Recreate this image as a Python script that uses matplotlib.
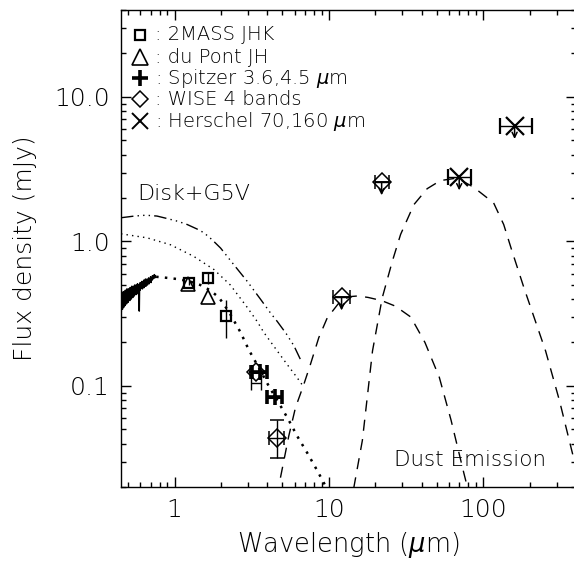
import numpy as np
import matplotlib
matplotlib.use("Agg")
import matplotlib.pyplot as plt
from matplotlib import font_manager as fm
from matplotlib.ticker import FixedLocator, FixedFormatter, LogLocator, NullFormatter

# choose a thin sans font if one is installed
fam, wt = 'DejaVu Sans', 'normal'
avail = {(f.name, f.weight) for f in fm.fontManager.ttflist}
for name, w in [('DejaVu Sans', 200), ('Open Sans', 300), ('Lato', 300)]:
    if any(n == name and (ww == w or ww == str(w) or ww in ('light', 'extra-light', 'ultralight'))
           for n, ww in avail):
        fam, wt = name, w
        break
plt.rcParams['font.family'] = [fam, 'DejaVu Sans']
plt.rcParams['font.weight'] = wt
plt.rcParams['axes.labelweight'] = wt
plt.rcParams['mathtext.fontset'] = 'custom'
plt.rcParams['mathtext.rm'] = f'{fam}'
plt.rcParams['mathtext.it'] = f'{fam}:italic'

# ---------------- data ----------------
# observed optical spectrum (noisy)
spec_wl = [0.452, 0.454, 0.456, 0.458, 0.460, 0.462, 0.464, 0.466, 0.468, 0.470,
           0.472, 0.474, 0.477, 0.480, 0.483, 0.486, 0.489, 0.492, 0.495, 0.498,
           0.501, 0.504, 0.507, 0.510, 0.513, 0.516, 0.519, 0.522, 0.525, 0.528,
           0.531, 0.534, 0.537, 0.540, 0.543, 0.546, 0.549, 0.552, 0.555, 0.558,
           0.561, 0.564, 0.567, 0.570, 0.573, 0.576, 0.579, 0.582, 0.585, 0.588,
           0.591, 0.594, 0.597, 0.600, 0.604, 0.608, 0.612, 0.616, 0.620, 0.624,
           0.628, 0.632, 0.636, 0.640, 0.644, 0.648, 0.652, 0.656, 0.660, 0.664,
           0.668, 0.672, 0.676, 0.680, 0.685, 0.690, 0.695, 0.700, 0.705, 0.710,
           0.715, 0.720, 0.725, 0.730, 0.735, 0.740, 0.745, 0.750]
spec_f = [0.33, 0.42, 0.35, 0.44, 0.34, 0.41, 0.36, 0.45, 0.35, 0.43,
          0.37, 0.44, 0.36, 0.46, 0.38, 0.44, 0.37, 0.47, 0.39, 0.45,
          0.38, 0.47, 0.40, 0.46, 0.39, 0.48, 0.41, 0.47, 0.40, 0.49,
          0.42, 0.47, 0.41, 0.49, 0.43, 0.48, 0.42, 0.50, 0.43, 0.48,
          0.44, 0.50, 0.43, 0.49, 0.45, 0.51, 0.44, 0.50, 0.46, 0.49,
          0.33, 0.50, 0.46, 0.52, 0.47, 0.51, 0.48, 0.53, 0.47, 0.52,
          0.49, 0.54, 0.48, 0.52, 0.50, 0.55, 0.49, 0.53, 0.51, 0.55,
          0.50, 0.54, 0.52, 0.56, 0.51, 0.55, 0.53, 0.57, 0.52, 0.56,
          0.54, 0.58, 0.55, 0.57, 0.56, 0.59, 0.56, 0.58]

# Disk+G5V model (dash-dot-dot-dot)
disk_wl = [0.45, 0.55, 0.65, 0.77, 0.90, 1.05, 1.21, 1.40, 1.55, 1.75, 1.99, 2.40,
           2.96, 3.60, 4.19, 4.63, 5.30, 5.94, 6.70]
disk_f = [1.46, 1.50, 1.52, 1.50, 1.44, 1.38, 1.31, 1.22, 1.15, 1.03, 0.90, 0.70,
          0.53, 0.40, 0.32, 0.28, 0.23, 0.19, 0.145]

# upper dotted model
g5v_wl = [0.45, 0.665, 0.94, 1.33, 1.80, 2.30, 2.96, 3.43, 3.79, 4.63, 5.37, 6.24, 6.90]
g5v_f = [1.13, 1.06, 0.95, 0.79, 0.64, 0.50, 0.35, 0.28, 0.235, 0.175, 0.141, 0.114, 0.098]

# lower dotted photosphere
phot_wl = [0.76, 0.90, 1.04, 1.25, 1.47, 1.70, 1.94, 2.25, 2.68, 3.03, 3.60, 4.08,
           4.86, 5.50, 6.24, 7.30, 8.41, 9.60]
phot_f = [0.57, 0.56, 0.55, 0.53, 0.50, 0.46, 0.41, 0.327, 0.235, 0.178, 0.128, 0.100,
          0.073, 0.058, 0.045, 0.034, 0.026, 0.020]

# warm dust component
warm_wl = [4.86, 5.5, 6.08, 6.89, 7.6, 8.61, 9.77, 11.5, 13.5, 15.5, 18, 22, 27, 34,
           42, 52, 62, 75, 80]
warm_f = [0.0232, 0.045, 0.0708, 0.1027, 0.141, 0.216, 0.296, 0.37, 0.415, 0.42, 0.41,
          0.39, 0.357, 0.30, 0.20, 0.115, 0.058, 0.025, 0.019]

# cold dust component
cold_wl = [14.5, 16.5, 19.2, 22.2, 25.8, 29.2, 35.6, 43.4, 52.9, 68, 87, 117, 136,
           154, 184, 254, 313, 391, 430]
cold_f = [0.0196, 0.042, 0.175, 0.408, 0.73, 1.12, 1.80, 2.32, 2.64, 2.75, 2.37, 1.85,
          1.31, 0.857, 0.478, 0.175, 0.0787, 0.030, 0.020]

# photometry
tmass_wl = [1.25, 1.66, 2.17]
tmass_f = [0.52, 0.56, 0.305]
tmass_err = [0.02, 0.05, 0.09]

dupont_wl = [1.23, 1.66]
dupont_f = [0.504, 0.41]

spitzer_wl = [3.6, 4.5]
spitzer_f = [0.124, 0.084]
spitzer_xerr = [0.4, 0.5]

wise_wl = [3.35, 4.6, 12.1, 22.0]
wise_f = [0.125, 0.0435, 0.41, 2.57]
wise_xlo = [0.25, 0.5, 1.4, 2.2]
wise_xhi = [0.25, 0.5, 1.7, 2.4]
wise_ylo = [0.0, 0.012, 0.0, 0.0]
wise_yhi = [0.0, 0.015, 0.0, 0.0]

extra_wl = [3.4]
extra_f = [0.105]

herschel_wl = [70.0, 160.0]
herschel_f = [2.78, 6.3]
herschel_xlo = [11.0, 32.0]
herschel_xhi = [14.0, 47.0]

legend_labels = [': 2MASS JHK', ': du Pont JH', r': Spitzer 3.6,4.5 $\mu$m',
                 ': WISE 4 bands', r': Herschel 70,160 $\mu$m']

# ---------------- figure ----------------
W, H = 574, 564
fig = plt.figure(figsize=(W / 100, H / 100), dpi=100)
ax = fig.add_axes([121 / W, 1 - 487 / H, 455 / W, 477 / H])
ax.set_xscale('log')
ax.set_yscale('log')
ax.set_xlim(0.45, 400)
ax.set_ylim(0.02, 40)

k = 'black'
ax.plot(spec_wl, spec_f, color=k, lw=1.1)
ax.plot(disk_wl, disk_f, color=k, lw=1.0, ls=(0, (9, 3, 1, 3, 1, 3, 1, 3)))
ax.plot(g5v_wl, g5v_f, color=k, lw=1.0, ls=(0, (1, 3)))
ax.plot(phot_wl, phot_f, color=k, lw=1.8, ls=(0, (1, 2.5)))
ax.plot(warm_wl, warm_f, color=k, lw=1.0, ls=(0, (8, 6)))
ax.plot(cold_wl, cold_f, color=k, lw=1.0, ls=(0, (8, 6)))

# 2MASS
ax.errorbar(tmass_wl, tmass_f, yerr=tmass_err, fmt='s', mfc='none', mec=k, ms=7,
            mew=1.6, ecolor=k, elinewidth=1.0, capsize=0)
# du Pont
ax.plot(dupont_wl, dupont_f, '^', mfc='none', mec=k, ms=10, mew=1.2)
# Spitzer
ax.errorbar(spitzer_wl, spitzer_f, xerr=spitzer_xerr, fmt='+', color=k, ms=12,
            mew=2.6, elinewidth=2.2, capsize=5, capthick=2.2)
# WISE
ax.errorbar(wise_wl, wise_f, xerr=[wise_xlo, wise_xhi], yerr=[wise_ylo, wise_yhi],
            fmt='D', mfc='none', mec=k, ms=9, mew=1.1, ecolor=k, elinewidth=1.0,
            capsize=5)
ax.errorbar(extra_wl, extra_f, xerr=[[0.25], [0.25]], fmt='none', ecolor=k,
            elinewidth=1.0, capsize=5)
# Herschel
ax.errorbar(herschel_wl, herschel_f, xerr=[herschel_xlo, herschel_xhi], fmt='x',
            color=k, ms=13, mew=1.6, elinewidth=1.0, capsize=6)

# upper-limit arrows
fac = 10 ** (-13 / 144.7)
for lw_, f_ in zip(wise_wl[2:] + herschel_wl, wise_f[2:] + herschel_f):
    ax.annotate('', xy=(lw_, f_ * fac), xytext=(lw_, f_),
                arrowprops=dict(arrowstyle='->', color=k, lw=1.1,
                                shrinkA=0, shrinkB=0, mutation_scale=9))

# ---------------- legend ----------------
ys = [0.948, 0.901, 0.857, 0.813, 0.767]
mk = [dict(marker='s', ms=7, mfc='none', mew=1.6),
      dict(marker='^', ms=11, mfc='none', mew=1.2),
      dict(marker='+', ms=12, mew=2.6),
      dict(marker='D', ms=8, mfc='none', mew=1.1),
      dict(marker='x', ms=12, mew=1.4)]
for y, m, lab in zip(ys, mk, legend_labels):
    ax.plot([0.042], [y], transform=ax.transAxes, color=k, ls='none', **m)
    ax.text(0.074, y, lab, transform=ax.transAxes, fontsize=14, va='center', ha='left')

ax.text(0.035, 0.615, 'Disk+G5V', transform=ax.transAxes, fontsize=16, va='center')
ax.text(0.60, 0.057, 'Dust Emission', transform=ax.transAxes, fontsize=15.5, va='center')

# ---------------- axes ----------------
ax.xaxis.set_major_locator(FixedLocator([1, 10, 100]))
ax.xaxis.set_major_formatter(FixedFormatter(['1', '10', '100']))
ax.xaxis.set_minor_locator(LogLocator(base=10, subs=np.arange(2, 10)))
ax.xaxis.set_minor_formatter(NullFormatter())
ax.yaxis.set_major_locator(FixedLocator([0.1, 1.0, 10.0]))
ax.yaxis.set_major_formatter(FixedFormatter(['0.1', '1.0', '10.0']))
ax.yaxis.set_minor_locator(LogLocator(base=10, subs=np.arange(2, 10)))
ax.yaxis.set_minor_formatter(NullFormatter())
ax.tick_params(which='both', direction='in', top=True, right=True, width=1.0)
ax.tick_params(which='major', length=7, labelsize=18, pad=8)
ax.tick_params(which='minor', length=3.5)
for s in ax.spines.values():
    s.set_linewidth(1.0)
ax.spines['right'].set_visible(False)

ax.set_xlabel(r'Wavelength ($\mu$m)', fontsize=18.5, labelpad=6)
ax.set_ylabel('Flux density (mJy)', fontsize=18, labelpad=12)

fig.savefig('out.png', dpi=100)
